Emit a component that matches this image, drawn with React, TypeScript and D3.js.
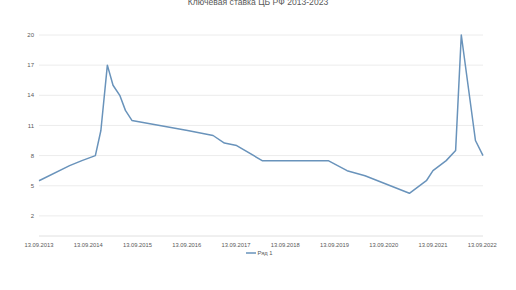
import React from "react";
import * as d3 from "d3";

const title = "Ключевая ставка ЦБ РФ 2013-2023";
const seriesName = "Ряд 1";
const dates = [
  "2013-09-13", "2014-04-28", "2014-07-28", "2014-11-05", "2014-12-16",
  "2015-02-02", "2015-03-16", "2015-05-05", "2015-06-16", "2015-08-03",
  "2016-09-19", "2017-03-27", "2017-06-19",
  "2017-09-18", "2018-03-26",
  "2019-07-29", "2019-12-16",
  "2020-04-27", "2021-03-22", "2021-07-26",
  "2021-09-13", "2021-12-20", "2022-02-28", "2022-04-11",
  "2022-07-25", "2022-09-19",
];
const rates = [
  5.5, 7.0, 7.5, 8.0, 10.5,
  17.0, 15.0, 14.0, 12.5, 11.5,
  10.5, 10.0, 9.25,
  9.0, 7.5,
  7.5, 6.5,
  6.0, 4.25, 5.5,
  6.5, 7.5, 8.5, 20.0,
  9.5, 8.0,
];
const yTicks = [2, 5, 8, 11, 14, 17, 20];
const xTickDates = [
  "2013-09-13", "2014-09-13", "2015-09-13", "2016-09-13", "2017-09-13",
  "2018-09-13", "2019-09-13", "2020-09-13", "2021-09-13", "2022-09-13",
];

const parse = d3.timeParse("%Y-%m-%d");
const fmt = d3.timeFormat("%d.%m.%Y");

export default function App() {
  const W = 516, H = 290;
  const x = d3.scaleTime()
    .domain([parse("2013-09-13")!, parse("2022-09-19")!])
    .range([39, 483]);
  const y = d3.scaleLinear().domain([0, 20]).range([236, 35]);
  const pts = dates.map((d, i) => ({ d: parse(d)!, v: rates[i] }));
  const line = d3.line<{ d: Date; v: number }>()
    .x((p) => x(p.d))
    .y((p) => y(p.v));
  const font = "'Liberation Sans', Arial, sans-serif";
  const [x0, x1] = x.range();
  return (
    <svg width={W} height={H} style={{ position: "absolute", left: 0, top: 0, background: "#fff" }}
      fontFamily={font}>
      <text x={258} y={5} textAnchor="middle" fontSize={8.6} fill="#595959">{title}</text>
      {yTicks.map((t) => (
        <g key={t}>
          <line x1={x0} x2={x1} y1={y(t)} y2={y(t)} stroke="#ececec" strokeWidth={1} />
          <text x={34} y={y(t)} dy="0.35em" textAnchor="end" fontSize={6} fill="#595959">{t}</text>
        </g>
      ))}
      <line x1={x0} x2={x1} y1={y(0)} y2={y(0)} stroke="#e0e0e0" strokeWidth={1} />
      {xTickDates.map((s) => {
        const d = parse(s)!;
        return (
          <text key={s} x={x(d)} y={246.5} textAnchor="middle" fontSize={5.8} fill="#595959">{fmt(d)}</text>
        );
      })}
      <path d={line(pts) ?? ""} fill="none" stroke="#6993bb" strokeWidth={1.5} strokeLinejoin="round" />
      <line x1={246} x2={256} y1={253} y2={253} stroke="#6993bb" strokeWidth={1.5} />
      <text x={257.5} y={255.3} fontSize={5.8} fill="#595959">{seriesName}</text>
    </svg>
  );
}
